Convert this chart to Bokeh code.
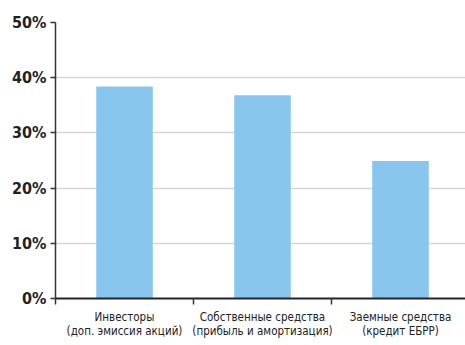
from bokeh.plotting import figure
from bokeh.models import Range1d, FixedTicker, PrintfTickFormatter, ColumnDataSource
from bokeh.embed import file_html
from bokeh.resources import INLINE

categories = ["Инвесторы\n(доп. эмиссия акций)",
              "Собственные средства\n(прибыль и амортизация)",
              "Заемные средства\n(кредит ЕБРР)"]
values = [38.4, 36.8, 24.9]
y_ticks = [0, 10, 20, 30, 40, 50]

xs = [i + 0.5 for i in range(len(categories))]
src = ColumnDataSource(dict(x=xs, top=values))

p = figure(width=465, height=345, output_backend="svg", toolbar_location=None,
           x_range=Range1d(0, 2.971), y_range=Range1d(0, 50),
           min_border_left=55, min_border_right=0, min_border_top=22,
           min_border_bottom=47)
p.outline_line_color = None
p.background_fill_color = "white"
p.border_fill_color = "white"

p.vbar(x="x", top="top", width=0.41, source=src, color="#89C6EE", line_color=None)

font = "Liberation Sans Narrow, DejaVu Sans Condensed, Roboto Condensed, Liberation Sans"

p.yaxis.ticker = FixedTicker(ticks=y_ticks)
p.yaxis.formatter = PrintfTickFormatter(format="%d%%")
p.yaxis.major_label_text_font = font
p.yaxis.major_label_text_font_style = "bold"
p.yaxis.major_label_text_font_size = "16px"
p.yaxis.major_label_text_color = "#222222"
p.yaxis.axis_line_color = "#333333"
p.yaxis.axis_line_width = 1.5
p.yaxis.major_tick_line_color = "#333333"
p.yaxis.major_tick_line_width = 1.5
p.yaxis.major_tick_out = 5
p.yaxis.major_tick_in = 0
p.yaxis.minor_tick_line_color = None
p.yaxis.major_label_standoff = 4

p.xaxis.ticker = FixedTicker(ticks=xs, minor_ticks=[0, 1, 2])
p.xaxis.major_label_overrides = {x: c for x, c in zip(xs, categories)}
p.xaxis.major_label_text_font = font
p.xaxis.major_label_text_font_size = "11.5px"
p.xaxis.major_label_text_line_height = 1.0
p.xaxis.major_label_text_color = "#222222"
p.xaxis.axis_line_color = "#222233"
p.xaxis.axis_line_width = 2
p.xaxis.major_tick_line_color = None
p.xaxis.minor_tick_line_color = "#333333"
p.xaxis.minor_tick_line_width = 1.5
p.xaxis.minor_tick_out = 6
p.xaxis.minor_tick_in = 0
p.xaxis.major_label_standoff = 5

p.xgrid.grid_line_color = None
p.ygrid.ticker = FixedTicker(ticks=y_ticks)
p.ygrid.grid_line_color = "#d6d6d6"
p.ygrid.grid_line_width = 1.5

open("out.html", "w").write(file_html(p, INLINE))
